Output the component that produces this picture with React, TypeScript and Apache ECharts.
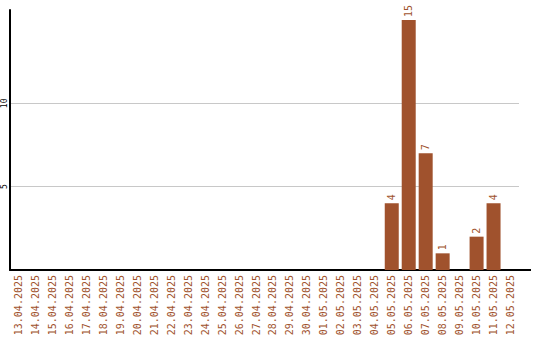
import React, { useEffect, useRef } from "react";
import * as echarts from "echarts";

const categories = [
  "13.04.2025", "14.04.2025", "15.04.2025", "16.04.2025", "17.04.2025",
  "18.04.2025", "19.04.2025", "20.04.2025", "21.04.2025", "22.04.2025",
  "23.04.2025", "24.04.2025", "25.04.2025", "26.04.2025", "27.04.2025",
  "28.04.2025", "29.04.2025", "30.04.2025", "01.05.2025", "02.05.2025",
  "03.05.2025", "04.05.2025", "05.05.2025", "06.05.2025", "07.05.2025",
  "08.05.2025", "09.05.2025", "10.05.2025", "11.05.2025", "12.05.2025",
];
const values = [
  0, 0, 0, 0, 0, 0, 0, 0, 0, 0,
  0, 0, 0, 0, 0, 0, 0, 0, 0, 0,
  0, 0, 4, 15, 7, 1, 0, 2, 4, 0,
];
const yTickLabels = [5, 10];

const BROWN = "#A0522D";
const FONT = "DejaVu Sans Mono";

export default function App() {
  const ref = useRef<HTMLDivElement>(null);
  useEffect(() => {
    document.body.style.margin = "0";
    if (!ref.current) return;
    const chart = echarts.init(ref.current, null, { renderer: "svg" });
    chart.setOption({
      animation: false,
      backgroundColor: "#ffffff",
      grid: { left: 10, top: 10, width: 509, height: 260 },
      xAxis: {
        type: "category",
        data: categories,
        axisLine: { show: true, lineStyle: { color: "#000", width: 2 } },
        axisTick: { show: false },
        axisLabel: {
          rotate: 90,
          interval: 0,
          margin: 5,
          color: BROWN,
          fontFamily: FONT,
          fontSize: 10,
        },
        splitLine: { show: false },
      },
      yAxis: {
        type: "value",
        min: 0,
        max: 15.6,
        interval: 5,
        axisLine: { show: true, lineStyle: { color: "#000", width: 2 } },
        axisTick: { show: false },
        axisLabel: {
          show: true,
          rotate: 90,
          margin: 2,
          color: "#000",
          fontFamily: FONT,
          fontSize: 8,
          formatter: (v: any) => (yTickLabels.indexOf(Number(v)) >= 0 ? String(v) : ""),
        },
        splitLine: {
          show: true,
          lineStyle: {
            color: ["#c8c8c8", "#c8c8c8", "#c8c8c8", "rgba(0,0,0,0)", "rgba(0,0,0,0)"],
            width: 1,
          },
        },
      },
      series: [
        {
          type: "bar",
          data: values,
          barWidth: 14,
          itemStyle: { color: BROWN },
          label: {
            show: true,
            position: "top",
            rotate: 90,
            align: "left",
            verticalAlign: "middle",
            distance: 3,
            color: BROWN,
            fontFamily: FONT,
            fontSize: 10,
            formatter: (p: any) => (p.value > 0 ? String(p.value) : ""),
          },
        },
      ],
      graphic: [
        {
          type: "line",
          shape: { x1: 518, y1: 270, x2: 531, y2: 270 },
          style: { stroke: "#000", lineWidth: 2 },
        },
      ],
    });
    return () => chart.dispose();
  }, []);
  return <div ref={ref} style={{ width: 540, height: 340 }} />;
}
